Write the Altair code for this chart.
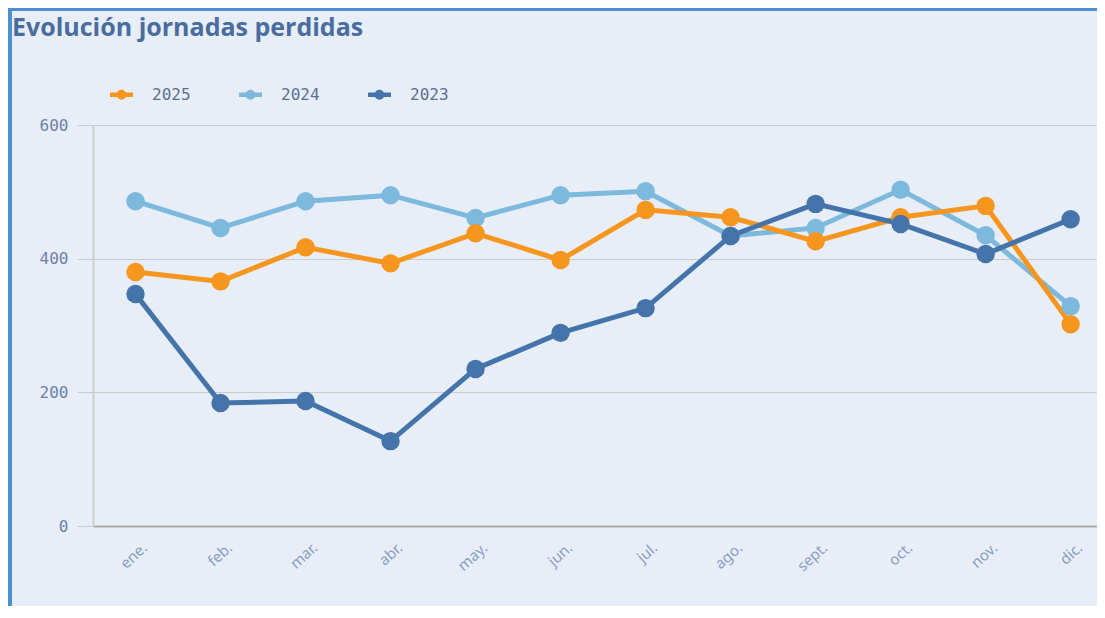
import altair as alt
import pandas as pd

title_text = "Evolución jornadas perdidas"
months = ["ene.", "feb.", "mar.", "abr.", "may.", "jun.", "jul.", "ago.", "sept.", "oct.", "nov.", "dic."]
series_order = ["2025", "2024", "2023"]
series_colors = ["#f7961e", "#7db9dc", "#4574aa"]
v2025 = [380, 366, 417, 393, 438, 398, 473, 462, 426, 462, 479, 302]
v2024 = [486, 446, 486, 495, 461, 495, 501, 434, 446, 503, 435, 329]
v2023 = [347, 184, 187, 127, 235, 289, 326, 434, 482, 452, 407, 459]
y_ticks = [0, 200, 400, 600]

# draw order: 2024 bottom, 2025 middle, 2023 top
rows = []
for name, vals in [("2024", v2024), ("2025", v2025), ("2023", v2023)]:
    for i, (m, v) in enumerate(zip(months, vals)):
        rows.append({"idx": i, "mes": m, "serie": name, "valor": v})
df = pd.DataFrame(rows)

W, H = 1004, 401
MONO = "DejaVu Sans Mono"

label_expr = "[" + ",".join("'%s'" % m for m in months) + "][datum.value]"

x_enc = alt.X(
    "idx:Q",
    scale=alt.Scale(domain=[-0.5, 11.31], nice=False, zero=False),
    axis=alt.Axis(
        title=None, values=list(range(len(months))), labelExpr=label_expr,
        grid=False, ticks=False, domainColor="#a9a9a9", domainWidth=2,
        labelAngle=-42, labelAlign="right", labelBaseline="middle",
        labelOffset=9, labelPadding=19, labelFont="Noto Sans",
        labelFontSize=15, labelColor="#8a9dc2",
    ),
)
y_enc = alt.Y(
    "valor:Q",
    scale=alt.Scale(domain=[0, 600], nice=False),
    axis=alt.Axis(
        title=None, values=y_ticks, grid=True, gridColor="#cbcbcb",
        tickColor="#cbcbcb", tickSize=16, domainColor="#cccccc", domainWidth=2,
        labelFont=MONO, labelFontSize=16, labelColor="#6d80a8", labelPadding=9,
    ),
)
color_scale = alt.Scale(domain=series_order, range=series_colors)

base = alt.Chart(df)
lines = base.mark_line(strokeWidth=5).encode(
    x=x_enc, y=y_enc,
    color=alt.Color("serie:N", scale=color_scale, legend=None),
    detail="serie:N",
)
legend_symbol = ("M-1,-0.19L1,-0.19L1,0.19L-1,0.19Z "
                 "M0.43,0A0.43,0.43,0,1,1,-0.43,0A0.43,0.43,0,1,1,0.43,0Z")
points = base.mark_point(filled=True, size=340, opacity=1, strokeWidth=0).encode(
    x=x_enc, y=y_enc,
    color=alt.Color(
        "serie:N", scale=color_scale,
        legend=alt.Legend(
            title=None, orient="none", legendX=17, legendY=-42,
            direction="horizontal", symbolType=legend_symbol, symbolSize=529,
            symbolStrokeWidth=0, labelFont=MONO, labelFontSize=16,
            labelColor="#5b6f96", labelOffset=19, columnPadding=48, padding=0,
        ),
    ),
)

one = alt.Data(values=[{"t": title_text}])
title_mark = alt.Chart(one).mark_text(
    align="left", baseline="alphabetic", font="Open Sans", fontWeight="bold",
    fontSize=25, color="#4a6d9f",
).encode(text="t:N", x=alt.value(-81), y=alt.value(-89))

left_border = alt.Chart(one).mark_rule(color="#4a90d2", strokeWidth=4).encode(
    x=alt.value(-83), y=alt.value(-117), y2=alt.value(H + 80)
)
top_border = alt.Chart(one).mark_rule(color="#4a90d2", strokeWidth=3).encode(
    y=alt.value(-115.5), x=alt.value(-85), x2=alt.value(W)
)

chart = alt.layer(lines, points, title_mark, left_border, top_border).resolve_legend(
    color="independent"
).properties(
    width=W, height=H,
    autosize=alt.AutoSizeParams(type="none"),
    padding={"left": 85, "top": 117, "right": 0, "bottom": 80},
    background="#e8eef7",
).configure_view(strokeWidth=0)

chart.save("out.html", embed_options={"renderer": "svg", "actions": False})
